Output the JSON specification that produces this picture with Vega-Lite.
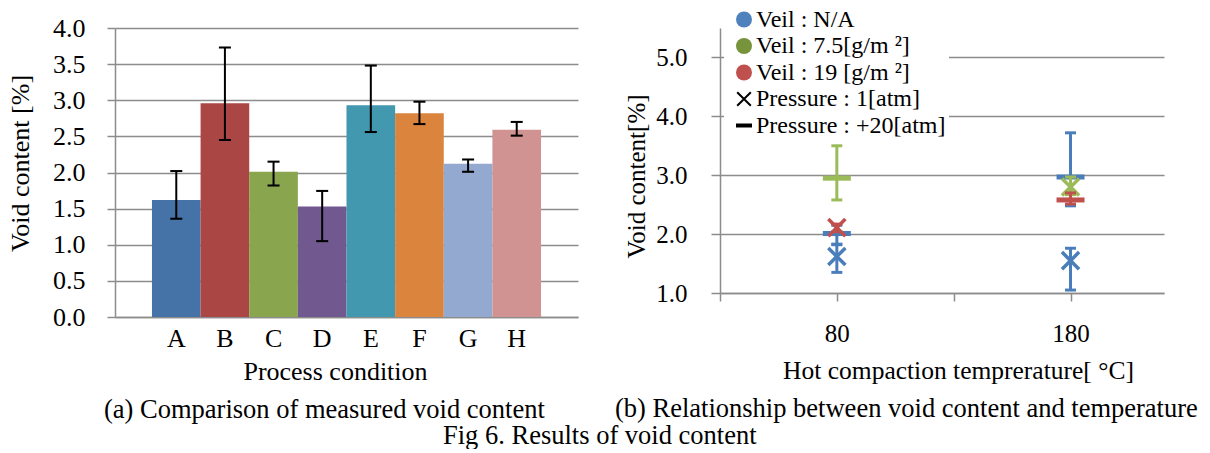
{
  "$schema": "https://vega.github.io/schema/vega-lite/v6.json",
  "background": "white",
  "padding": {"left": 7, "top": 4, "right": 0, "bottom": 0},
  "bounds": "flush",
  "spacing": 142,
  "config": {
    "font": "Liberation Serif",
    "view": {"stroke": null},
    "style": {"guide-label": {"font": "Liberation Serif"}, "guide-title": {"font": "Liberation Serif"}},
    "axis": {
      "labelFont": "Liberation Serif", "titleFont": "Liberation Serif",
      "labelColor": "#000000", "titleColor": "#000000", "titleFontWeight": "normal",
      "domainColor": "#8c8c8c", "tickColor": "#8c8c8c", "gridColor": "#8c8c8c",
      "domainWidth": 1.5, "tickWidth": 1.5, "gridWidth": 1.5
    },
    "legend": {"labelFont": "Liberation Serif", "titleFont": "Liberation Serif"},
    "title": {"font": "Liberation Serif", "fontWeight": "normal", "color": "#000000"}
  },
  "title": {"text": "Fig 6. Results of void content", "orient": "bottom", "anchor": "start", "frame": "group", "dx": 328, "offset": -1, "fontSize": 26.5},
  "hconcat": [
    {
      "width": 463, "height": 289,
      "title": {"text": "(a) Comparison of measured void content", "orient": "bottom", "anchor": "start", "frame": "group", "dx": -11, "offset": 13, "fontSize": 26.5},
      "data": {"values": [
        {"cond": "A", "value": 1.62, "lo": 1.36, "hi": 2.02},
        {"cond": "B", "value": 2.96, "lo": 2.45, "hi": 3.73},
        {"cond": "C", "value": 2.01, "lo": 1.82, "hi": 2.15},
        {"cond": "D", "value": 1.53, "lo": 1.05, "hi": 1.745},
        {"cond": "E", "value": 2.93, "lo": 2.56, "hi": 3.48},
        {"cond": "F", "value": 2.82, "lo": 2.67, "hi": 2.98},
        {"cond": "G", "value": 2.12, "lo": 2.01, "hi": 2.18},
        {"cond": "H", "value": 2.59, "lo": 2.51, "hi": 2.70}
      ]},
      "encoding": {
        "x": {"field": "cond", "type": "nominal", "sort": null,
          "scale": {"paddingInner": 0, "paddingOuter": 0.76},
          "axis": {"title": "Process condition", "labelFont": "Liberation Serif", "titleFont": "Liberation Serif", "labelAngle": 0, "labelFontSize": 26, "titleFontSize": 26, "ticks": false, "labelPadding": 8, "titlePadding": 7, "titleX": 220}}
      },
      "layer": [
        {
          "mark": {"type": "bar"},
          "encoding": {
            "y": {"field": "value", "type": "quantitative", "scale": {"domain": [0, 4], "nice": false},
              "axis": {"title": "Void content [%]", "labelFont": "Liberation Serif", "titleFont": "Liberation Serif", "values": [0, 0.5, 1, 1.5, 2, 2.5, 3, 3.5, 4], "format": ".1f", "tickSize": 8, "labelPadding": 22, "titlePadding": 19, "labelFontSize": 26, "titleFontSize": 26, "titleY": 135, "grid": true}},
            "color": {"field": "cond", "type": "nominal", "legend": null,
              "scale": {"domain": ["A", "B", "C", "D", "E", "F", "G", "H"], "range": ["#4572A7", "#AA4643", "#89A54E", "#71588F", "#4198AF", "#DB843D", "#93A9CF", "#D19392"]}}
          }
        },
        {
          "mark": {"type": "rule", "color": "#000000", "strokeWidth": 2},
          "encoding": {
            "y": {"field": "lo", "type": "quantitative", "scale": {"domain": [0, 4], "nice": false},
              "axis": {"title": "Void content [%]", "labelFont": "Liberation Serif", "titleFont": "Liberation Serif", "values": [0, 0.5, 1, 1.5, 2, 2.5, 3, 3.5, 4], "format": ".1f", "tickSize": 8, "labelPadding": 22, "titlePadding": 19, "labelFontSize": 26, "titleFontSize": 26, "titleY": 135, "grid": true}},
            "y2": {"field": "hi"}
          }
        },
        {
          "transform": [{"fold": ["lo", "hi"], "as": ["end", "ev"]}],
          "mark": {"type": "point", "shape": "M-1,-0.17H1V0.17H-1Z", "filled": true, "color": "#000000", "size": 144, "opacity": 1},
          "encoding": {
            "y": {"field": "ev", "type": "quantitative", "scale": {"domain": [0, 4], "nice": false},
              "axis": {"title": "Void content [%]", "labelFont": "Liberation Serif", "titleFont": "Liberation Serif", "values": [0, 0.5, 1, 1.5, 2, 2.5, 3, 3.5, 4], "format": ".1f", "tickSize": 8, "labelPadding": 22, "titlePadding": 19, "labelFontSize": 26, "titleFontSize": 26, "titleY": 135, "grid": true}}
          }
        }
      ]
    },
    {
      "width": 444, "height": 265,
      "title": {"text": "(b) Relationship between void content and temperature", "orient": "bottom", "anchor": "start", "frame": "group", "dx": -105, "offset": 12, "fontSize": 26.5},
      "data": {"values": [
        {"temp": 80, "veil": "none", "pressure": "1atm", "value": 1.62, "lo": 1.35, "hi": 1.83},
        {"temp": 80, "veil": "none", "pressure": "20atm", "value": 2.01, "lo": 1.82, "hi": 2.15},
        {"temp": 180, "veil": "none", "pressure": "20atm", "value": 2.97, "lo": 2.48, "hi": 3.72},
        {"temp": 180, "veil": "none", "pressure": "1atm", "value": 1.55, "lo": 1.05, "hi": 1.76},
        {"temp": 80, "veil": "light", "pressure": "20atm", "value": 2.95, "lo": 2.58, "hi": 3.5},
        {"temp": 180, "veil": "light", "pressure": "1atm", "value": 2.8, "lo": 2.67, "hi": 2.97},
        {"temp": 80, "veil": "heavy", "pressure": "1atm", "value": 2.11, "lo": 2.04, "hi": 2.17},
        {"temp": 180, "veil": "heavy", "pressure": "20atm", "value": 2.58, "lo": 2.51, "hi": 2.7}
      ]},
      "encoding": {
        "x": {"field": "temp", "type": "quantitative", "scale": {"domain": [30, 220], "nice": false, "zero": false},
          "axis": {"title": "Hot compaction temprerature[  °C]", "labelFont": "Liberation Serif", "titleFont": "Liberation Serif", "values": [30, 80, 130, 180], "labelExpr": "datum.value == 80 || datum.value == 180 ? datum.label : ''", "labelFlush": false, "tickSize": 8, "labelPadding": 20, "titlePadding": 12, "titleX": 238, "grid": false, "labelFontSize": 25, "titleFontSize": 25.5}},
        "y": {"field": "value", "type": "quantitative", "scale": {"domain": [1, 5.5], "nice": false, "zero": false},
          "axis": {"title": "Void content[%]", "labelFont": "Liberation Serif", "titleFont": "Liberation Serif", "values": [1, 2, 3, 4, 5], "format": ".1f", "tickSize": 9, "labelPadding": 24, "titlePadding": 6, "labelFontSize": 25, "titleFontSize": 25, "titleY": 148, "grid": true}}
      },
      "layer": [
        {
          "transform": [{"filter": "datum.veil == 'none'"}],
          "mark": {"type": "rule", "strokeWidth": 3, "color": "#4A7EBB"},
          "encoding": {"y": {"field": "lo", "type": "quantitative", "scale": {"domain": [1, 5.5], "nice": false, "zero": false},
            "axis": {"title": "Void content[%]", "labelFont": "Liberation Serif", "titleFont": "Liberation Serif", "values": [1, 2, 3, 4, 5], "format": ".1f", "tickSize": 9, "labelPadding": 24, "titlePadding": 6, "labelFontSize": 25, "titleFontSize": 25, "titleY": 148, "grid": true}},
            "y2": {"field": "hi"}}
        },
        {
          "transform": [{"filter": "datum.veil == 'none'"}, {"fold": ["lo", "hi"], "as": ["end", "ev"]}],
          "mark": {"type": "point", "shape": "M-1,-0.27H1V0.27H-1Z", "filled": true, "size": 121, "opacity": 1, "color": "#4A7EBB"},
          "encoding": {"y": {"field": "ev", "type": "quantitative", "scale": {"domain": [1, 5.5], "nice": false, "zero": false},
            "axis": {"title": "Void content[%]", "labelFont": "Liberation Serif", "titleFont": "Liberation Serif", "values": [1, 2, 3, 4, 5], "format": ".1f", "tickSize": 9, "labelPadding": 24, "titlePadding": 6, "labelFontSize": 25, "titleFontSize": 25, "titleY": 148, "grid": true}}}
        },
        {
          "transform": [{"filter": "datum.veil == 'none' && datum.pressure == '20atm'"}],
          "mark": {"type": "point", "shape": "M-1,-0.18H1V0.18H-1Z", "filled": true, "size": 784, "opacity": 1, "color": "#4A7EBB"}
        },
        {
          "transform": [{"filter": "datum.veil == 'none' && datum.pressure == '1atm'"}],
          "mark": {"type": "point", "shape": "M-0.7,-0.523L-0.523,-0.7L0.7,0.523L0.523,0.7Z M0.523,-0.7L0.7,-0.523L-0.523,0.7L-0.7,0.523Z", "filled": true, "size": 784, "opacity": 1, "color": "#4A7EBB"}
        },
        {
          "transform": [{"filter": "datum.veil == 'light'"}],
          "mark": {"type": "rule", "strokeWidth": 3, "color": "#9BBB59"},
          "encoding": {"y": {"field": "lo", "type": "quantitative", "scale": {"domain": [1, 5.5], "nice": false, "zero": false},
            "axis": {"title": "Void content[%]", "labelFont": "Liberation Serif", "titleFont": "Liberation Serif", "values": [1, 2, 3, 4, 5], "format": ".1f", "tickSize": 9, "labelPadding": 24, "titlePadding": 6, "labelFontSize": 25, "titleFontSize": 25, "titleY": 148, "grid": true}},
            "y2": {"field": "hi"}}
        },
        {
          "transform": [{"filter": "datum.veil == 'light'"}, {"fold": ["lo", "hi"], "as": ["end", "ev"]}],
          "mark": {"type": "point", "shape": "M-1,-0.27H1V0.27H-1Z", "filled": true, "size": 121, "opacity": 1, "color": "#9BBB59"},
          "encoding": {"y": {"field": "ev", "type": "quantitative", "scale": {"domain": [1, 5.5], "nice": false, "zero": false},
            "axis": {"title": "Void content[%]", "labelFont": "Liberation Serif", "titleFont": "Liberation Serif", "values": [1, 2, 3, 4, 5], "format": ".1f", "tickSize": 9, "labelPadding": 24, "titlePadding": 6, "labelFontSize": 25, "titleFontSize": 25, "titleY": 148, "grid": true}}}
        },
        {
          "transform": [{"filter": "datum.veil == 'light' && datum.pressure == '20atm'"}],
          "mark": {"type": "point", "shape": "M-1,-0.18H1V0.18H-1Z", "filled": true, "size": 784, "opacity": 1, "color": "#9BBB59"}
        },
        {
          "transform": [{"filter": "datum.veil == 'light' && datum.pressure == '1atm'"}],
          "mark": {"type": "point", "shape": "M-0.7,-0.523L-0.523,-0.7L0.7,0.523L0.523,0.7Z M0.523,-0.7L0.7,-0.523L-0.523,0.7L-0.7,0.523Z", "filled": true, "size": 784, "opacity": 1, "color": "#9BBB59"}
        },
        {
          "transform": [{"filter": "datum.veil == 'heavy'"}],
          "mark": {"type": "rule", "strokeWidth": 3, "color": "#C0504D"},
          "encoding": {"y": {"field": "lo", "type": "quantitative", "scale": {"domain": [1, 5.5], "nice": false, "zero": false},
            "axis": {"title": "Void content[%]", "labelFont": "Liberation Serif", "titleFont": "Liberation Serif", "values": [1, 2, 3, 4, 5], "format": ".1f", "tickSize": 9, "labelPadding": 24, "titlePadding": 6, "labelFontSize": 25, "titleFontSize": 25, "titleY": 148, "grid": true}},
            "y2": {"field": "hi"}}
        },
        {
          "transform": [{"filter": "datum.veil == 'heavy'"}, {"fold": ["lo", "hi"], "as": ["end", "ev"]}],
          "mark": {"type": "point", "shape": "M-1,-0.27H1V0.27H-1Z", "filled": true, "size": 121, "opacity": 1, "color": "#C0504D"},
          "encoding": {"y": {"field": "ev", "type": "quantitative", "scale": {"domain": [1, 5.5], "nice": false, "zero": false},
            "axis": {"title": "Void content[%]", "labelFont": "Liberation Serif", "titleFont": "Liberation Serif", "values": [1, 2, 3, 4, 5], "format": ".1f", "tickSize": 9, "labelPadding": 24, "titlePadding": 6, "labelFontSize": 25, "titleFontSize": 25, "titleY": 148, "grid": true}}}
        },
        {
          "transform": [{"filter": "datum.veil == 'heavy' && datum.pressure == '20atm'"}],
          "mark": {"type": "point", "shape": "M-1,-0.18H1V0.18H-1Z", "filled": true, "size": 784, "opacity": 1, "color": "#C0504D"}
        },
        {
          "transform": [{"filter": "datum.veil == 'heavy' && datum.pressure == '1atm'"}],
          "mark": {"type": "point", "shape": "M-0.7,-0.523L-0.523,-0.7L0.7,0.523L0.523,0.7Z M0.523,-0.7L0.7,-0.523L-0.523,0.7L-0.7,0.523Z", "filled": true, "size": 784, "opacity": 1, "color": "#C0504D"}
        },
        {
          "data": {"values": [
            {"item": "Veil : N/A"},
            {"item": "Veil : 7.5[g/m ²]"},
            {"item": "Veil : 19 [g/m ²]"},
            {"item": "Pressure : 1[atm]"},
            {"item": "Pressure : +20[atm]"}
          ]},
          "mark": {"type": "point", "filled": true, "opacity": 1},
          "encoding": {
            "fill": {"field": "item", "type": "nominal",
              "scale": {"domain": ["Veil : N/A", "Veil : 7.5[g/m ²]", "Veil : 19 [g/m ²]", "Pressure : 1[atm]", "Pressure : +20[atm]"], "range": ["#4F81BD", "#77933C", "#C0504D", "#000000", "#000000"]},
              "legend": {"title": null, "orient": "none", "legendX": 609, "legendY": -23.5, "fillColor": "white", "padding": 3, "symbolOffset": 5, "symbolSize": 256, "symbolStrokeWidth": 0, "labelFont": "Liberation Serif", "labelFontSize": 24, "labelColor": "#000000", "labelOffset": 0, "rowPadding": 2.5, "labelLimit": 500}},
            "shape": {"field": "item", "type": "nominal",
              "scale": {"domain": ["Veil : N/A", "Veil : 7.5[g/m ²]", "Veil : 19 [g/m ²]", "Pressure : 1[atm]", "Pressure : +20[atm]"], "range": ["circle", "circle", "circle", "M-0.94,-0.763L-0.763,-0.94L0.94,0.763L0.763,0.94Z M0.763,-0.94L0.94,-0.763L-0.763,0.94L-0.94,0.763Z", "M-1,-0.25H1V0.25H-1Z"]},
              "legend": {"title": null, "orient": "none", "legendX": 609, "legendY": -23.5, "fillColor": "white", "padding": 3, "symbolOffset": 5, "symbolSize": 256, "symbolStrokeWidth": 0, "labelFont": "Liberation Serif", "labelFontSize": 24, "labelColor": "#000000", "labelOffset": 0, "rowPadding": 2.5, "labelLimit": 500}}
          }
        }
      ]
    }
  ]
}
